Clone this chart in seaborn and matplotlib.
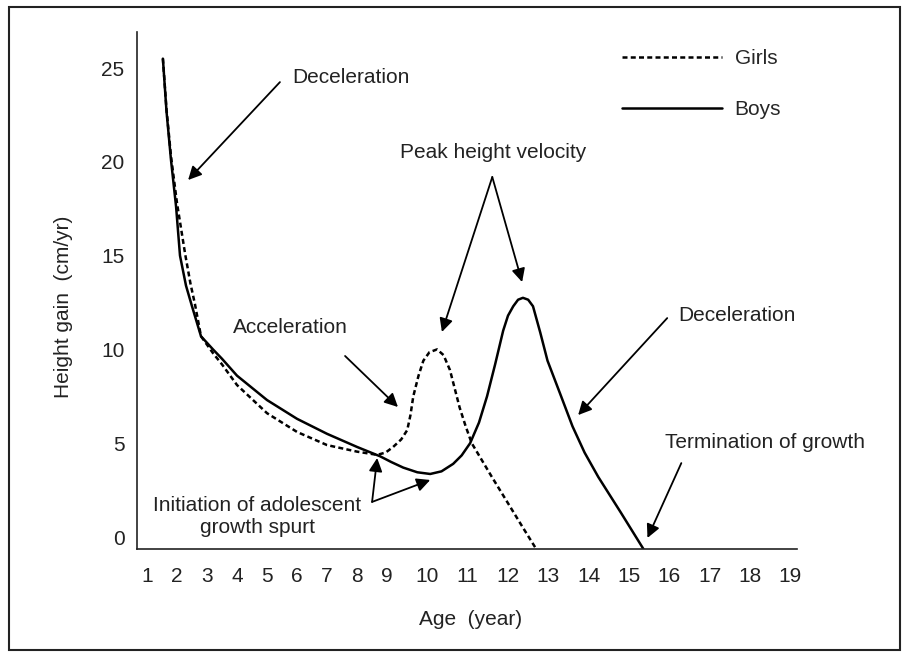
import matplotlib as mpl
mpl.use('Agg')
import matplotlib.pyplot as plt
import numpy as np
import pandas as pd
import seaborn as sns
from matplotlib.lines import Line2D
from matplotlib.patches import Rectangle

# values (age in years, height gain in cm/yr)
boys_age = [1.53, 1.65, 1.8, 1.97, 2.1, 2.3, 2.5, 2.8, 3.2, 3.5, 4, 5, 6, 7, 8,
            8.77, 9.1, 9.4, 9.75, 10.07, 10.35, 10.64, 10.85, 11.06, 11.28, 11.48,
            11.68, 11.88, 12.0, 12.13, 12.25, 12.37, 12.5, 12.62, 12.8, 12.98,
            13.3, 13.6, 13.9, 14.24, 14.8, 15.36]
boys_gain = [25.5, 22.7, 20.1, 17.6, 15.0, 13.4, 12.3, 10.7, 10.0, 9.5, 8.6, 7.3,
             6.3, 5.5, 4.8, 4.3, 4.0, 3.7, 3.45, 3.36, 3.5, 3.9, 4.35, 5.0, 6.1,
             7.5, 9.2, 11.0, 11.8, 12.3, 12.65, 12.75, 12.65, 12.3, 10.9, 9.4, 7.6,
             5.9, 4.5, 3.2, 1.3, -0.64]

girls_age = [1.53, 1.65, 1.8, 2.0, 2.15, 2.27, 2.45, 2.6, 2.8, 3.2, 3.5, 4, 5, 6,
             7, 8, 8.67, 8.95, 9.15, 9.35, 9.5, 9.58, 9.65, 9.78, 9.9, 10.05, 10.24,
             10.4, 10.56, 10.68, 10.8, 10.95, 11.1, 11.35, 11.6, 12.0, 12.37, 12.7]
girls_gain = [25.5, 22.8, 20.3, 17.8, 16.3, 15.1, 13.5, 12.4, 10.7, 9.8, 9.2, 8.1,
              6.6, 5.6, 4.9, 4.55, 4.38, 4.5, 4.8, 5.2, 5.7, 6.5, 7.5, 8.6, 9.4,
              9.85, 10.0, 9.7, 8.9, 7.9, 6.9, 5.9, 5.0, 4.1, 3.2, 1.8, 0.5, -0.64]

age_ticks = list(range(1, 20))
gain_ticks = [0, 5, 10, 15, 20, 25]


# the printed age axis is stretched after 9 years
def fwd(x):
    x = np.asarray(x, dtype=float)
    return np.where(x <= 9, x, 9 + (x - 9) * 1.343)


def inv(u):
    u = np.asarray(u, dtype=float)
    return np.where(u <= 9, u, 9 + (u - 9) / 1.343)


df = pd.concat([
    pd.DataFrame({'age': girls_age, 'gain': girls_gain, 'sex': 'Girls'}),
    pd.DataFrame({'age': boys_age, 'gain': boys_gain, 'sex': 'Boys'}),
])

sns.set_style('white')
plt.rcParams['font.family'] = ['Liberation Sans', 'DejaVu Sans']
FS = 15

fig = plt.figure(figsize=(9.06, 6.56), dpi=100)
ax = fig.add_axes([0.1512, 0.1631, 0.7285, 0.7881])
ax.set_xscale('function', functions=(fwd, inv))

sns.lineplot(data=df, x='age', y='gain', style='sex', style_order=['Girls', 'Boys'],
             dashes={'Girls': (2.0, 1.3), 'Boys': ''}, color='black', linewidth=1.8,
             estimator=None, sort=False, legend=False, ax=ax)

ax.set_xlim(0.667, 19.17)
ax.set_ylim(-0.64, 26.92)
ax.set_xticks(age_ticks)
ax.set_yticks(gain_ticks)
ax.tick_params(axis='both', length=0, labelsize=FS, colors='#222222')
ax.tick_params(axis='x', pad=13)
ax.tick_params(axis='y', pad=9)
for s in ['top', 'right']:
    ax.spines[s].set_visible(False)
for s in ['left', 'bottom']:
    ax.spines[s].set_color('#222222')
    ax.spines[s].set_linewidth(1.2)

ax.set_xlabel('Age  (year)', fontsize=FS, color='#222222')
ax.set_ylabel('Height gain  (cm/yr)', fontsize=FS, color='#222222')
ax.xaxis.set_label_coords(0.505, -0.137)
ax.yaxis.set_label_coords(-0.112, 0.468)
ax.xaxis.label.set_va('center')
ax.yaxis.label.set_va('center')

# legend
handles = [Line2D([], [], color='black', lw=1.8, dashes=(2.0, 1.3)),
           Line2D([], [], color='black', lw=1.8)]
ax.legend(handles, ['Girls', 'Boys'], loc='upper left', bbox_to_anchor=(0.735, 0.967),
          frameon=False, fontsize=FS, handlelength=4.8, handletextpad=0.6,
          labelspacing=1.55, borderpad=0, borderaxespad=0)

arrow = dict(arrowstyle='-|>', color='black', lw=1.3, mutation_scale=20,
             shrinkA=0, shrinkB=0)
txt = dict(fontsize=FS, color='#222222', va='center')

ax.text(5.83, 24.47, 'Deceleration', ha='left', **txt)
ax.annotate('', xy=(2.37, 19.03), xytext=(5.43, 24.25), arrowprops=arrow)

ax.text(11.63, 20.5, 'Peak height velocity', ha='center', **txt)
ax.annotate('', xy=(10.36, 10.93), xytext=(11.61, 19.19), arrowprops=arrow)
ax.annotate('', xy=(12.35, 13.59), xytext=(11.61, 19.19), arrowprops=arrow)

ax.text(5.77, 11.19, 'Acceleration', ha='center', **txt)
ax.annotate('', xy=(9.27, 6.93), xytext=(7.6, 9.65), arrowprops=arrow)

ax.text(17.68, 11.83, 'Deceleration', ha='center', **txt)
ax.annotate('', xy=(13.74, 6.5), xytext=(15.95, 11.67), arrowprops=arrow)

ax.text(15.9, 5.06, 'Termination of growth', ha='left', **txt)
ax.annotate('', xy=(15.46, -0.05), xytext=(16.3, 3.94), arrowprops=arrow)

ax.text(4.67, 1.1, 'Initiation of adolescent\ngrowth spurt', ha='center',
        multialignment='center', linespacing=1.2, **txt)
ax.annotate('', xy=(8.67, 4.21), xytext=(8.5, 1.87), arrowprops=arrow)
ax.annotate('', xy=(10.07, 3.04), xytext=(8.5, 1.87), arrowprops=arrow)

# outer frame round the whole figure
fig.patches.append(Rectangle((9 / 906, 1 - 650 / 656), 891 / 906, 643 / 656,
                             transform=fig.transFigure, fill=False,
                             edgecolor='#222222', lw=1.5))

fig.savefig('out.png', dpi=100)
